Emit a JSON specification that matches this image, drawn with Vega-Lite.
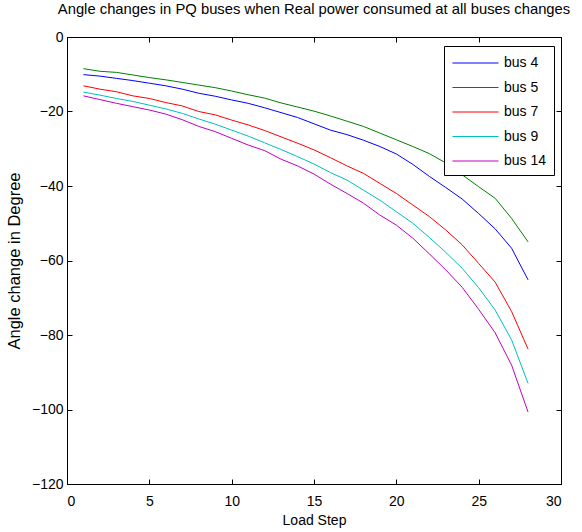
{
  "$schema": "https://vega.github.io/schema/vega-lite/v6.json",
  "width": 494,
  "height": 447,
  "autosize": {"type": "none"},
  "padding": {"left": 67, "top": 37, "right": 21, "bottom": 48},
  "background": "white",
  "title": {
    "text": "Angle changes in PQ buses when Real power consumed at all buses changes",
    "font": "Liberation Sans",
    "fontSize": 14.8,
    "fontWeight": "normal",
    "color": "black",
    "offset": 13
  },
  "config": {
    "view": {"stroke": "black", "strokeWidth": 1},
    "axis": {
      "labelFont": "Liberation Sans",
      "titleFont": "Liberation Sans",
      "labelFontSize": 14,
      "titleFontSize": 14,
      "titleFontWeight": "normal",
      "labelColor": "black",
      "titleColor": "black",
      "domainColor": "black",
      "tickColor": "black",
      "grid": false,
      "tickSize": -5
    }
  },
  "data": {
    "values": [
      {"step": 1, "bus": "bus 4", "angle": -10.1}, {"step": 2, "bus": "bus 4", "angle": -10.5}, {"step": 3, "bus": "bus 4", "angle": -11.1}, {"step": 4, "bus": "bus 4", "angle": -11.7},
      {"step": 5, "bus": "bus 4", "angle": -12.4}, {"step": 6, "bus": "bus 4", "angle": -13.1}, {"step": 7, "bus": "bus 4", "angle": -14.0}, {"step": 8, "bus": "bus 4", "angle": -15.1},
      {"step": 9, "bus": "bus 4", "angle": -15.9}, {"step": 10, "bus": "bus 4", "angle": -16.9}, {"step": 11, "bus": "bus 4", "angle": -17.8}, {"step": 12, "bus": "bus 4", "angle": -19.0},
      {"step": 13, "bus": "bus 4", "angle": -20.3}, {"step": 14, "bus": "bus 4", "angle": -21.6}, {"step": 15, "bus": "bus 4", "angle": -23.3}, {"step": 16, "bus": "bus 4", "angle": -25.0},
      {"step": 17, "bus": "bus 4", "angle": -26.2}, {"step": 18, "bus": "bus 4", "angle": -27.7}, {"step": 19, "bus": "bus 4", "angle": -29.4}, {"step": 20, "bus": "bus 4", "angle": -31.4},
      {"step": 21, "bus": "bus 4", "angle": -34.2}, {"step": 22, "bus": "bus 4", "angle": -37.4}, {"step": 23, "bus": "bus 4", "angle": -40.4}, {"step": 24, "bus": "bus 4", "angle": -43.5},
      {"step": 25, "bus": "bus 4", "angle": -47.4}, {"step": 26, "bus": "bus 4", "angle": -51.5}, {"step": 27, "bus": "bus 4", "angle": -56.7}, {"step": 28, "bus": "bus 4", "angle": -65.2},

      {"step": 1, "bus": "bus 5", "angle": -8.5}, {"step": 2, "bus": "bus 5", "angle": -9.2}, {"step": 3, "bus": "bus 5", "angle": -9.5}, {"step": 4, "bus": "bus 5", "angle": -10.2},
      {"step": 5, "bus": "bus 5", "angle": -10.9}, {"step": 6, "bus": "bus 5", "angle": -11.5}, {"step": 7, "bus": "bus 5", "angle": -12.2}, {"step": 8, "bus": "bus 5", "angle": -12.9},
      {"step": 9, "bus": "bus 5", "angle": -13.6}, {"step": 10, "bus": "bus 5", "angle": -14.5}, {"step": 11, "bus": "bus 5", "angle": -15.5}, {"step": 12, "bus": "bus 5", "angle": -16.4},
      {"step": 13, "bus": "bus 5", "angle": -17.7}, {"step": 14, "bus": "bus 5", "angle": -18.8}, {"step": 15, "bus": "bus 5", "angle": -19.9}, {"step": 16, "bus": "bus 5", "angle": -21.2},
      {"step": 17, "bus": "bus 5", "angle": -22.6}, {"step": 18, "bus": "bus 5", "angle": -24.0}, {"step": 19, "bus": "bus 5", "angle": -25.8}, {"step": 20, "bus": "bus 5", "angle": -27.6},
      {"step": 21, "bus": "bus 5", "angle": -29.4}, {"step": 22, "bus": "bus 5", "angle": -31.3}, {"step": 23, "bus": "bus 5", "angle": -33.8}, {"step": 24, "bus": "bus 5", "angle": -37.0},
      {"step": 25, "bus": "bus 5", "angle": -40.2}, {"step": 26, "bus": "bus 5", "angle": -43.3}, {"step": 27, "bus": "bus 5", "angle": -48.7}, {"step": 28, "bus": "bus 5", "angle": -55.0},

      {"step": 1, "bus": "bus 7", "angle": -13.1}, {"step": 2, "bus": "bus 7", "angle": -14.0}, {"step": 3, "bus": "bus 7", "angle": -14.7}, {"step": 4, "bus": "bus 7", "angle": -15.8},
      {"step": 5, "bus": "bus 7", "angle": -16.5}, {"step": 6, "bus": "bus 7", "angle": -17.6}, {"step": 7, "bus": "bus 7", "angle": -18.5}, {"step": 8, "bus": "bus 7", "angle": -20.0},
      {"step": 9, "bus": "bus 7", "angle": -20.9}, {"step": 10, "bus": "bus 7", "angle": -22.3}, {"step": 11, "bus": "bus 7", "angle": -23.6}, {"step": 12, "bus": "bus 7", "angle": -25.1},
      {"step": 13, "bus": "bus 7", "angle": -26.8}, {"step": 14, "bus": "bus 7", "angle": -28.5}, {"step": 15, "bus": "bus 7", "angle": -30.3}, {"step": 16, "bus": "bus 7", "angle": -32.4},
      {"step": 17, "bus": "bus 7", "angle": -34.6}, {"step": 18, "bus": "bus 7", "angle": -36.6}, {"step": 19, "bus": "bus 7", "angle": -39.3}, {"step": 20, "bus": "bus 7", "angle": -42.0},
      {"step": 21, "bus": "bus 7", "angle": -45.1}, {"step": 22, "bus": "bus 7", "angle": -48.2}, {"step": 23, "bus": "bus 7", "angle": -51.8}, {"step": 24, "bus": "bus 7", "angle": -55.8},
      {"step": 25, "bus": "bus 7", "angle": -60.8}, {"step": 26, "bus": "bus 7", "angle": -65.8}, {"step": 27, "bus": "bus 7", "angle": -73.7}, {"step": 28, "bus": "bus 7", "angle": -83.8},

      {"step": 1, "bus": "bus 9", "angle": -14.8}, {"step": 2, "bus": "bus 9", "angle": -15.6}, {"step": 3, "bus": "bus 9", "angle": -16.5}, {"step": 4, "bus": "bus 9", "angle": -17.3},
      {"step": 5, "bus": "bus 9", "angle": -18.3}, {"step": 6, "bus": "bus 9", "angle": -19.3}, {"step": 7, "bus": "bus 9", "angle": -20.5}, {"step": 8, "bus": "bus 9", "angle": -22.0},
      {"step": 9, "bus": "bus 9", "angle": -23.4}, {"step": 10, "bus": "bus 9", "angle": -25.0}, {"step": 11, "bus": "bus 9", "angle": -26.6}, {"step": 12, "bus": "bus 9", "angle": -28.4},
      {"step": 13, "bus": "bus 9", "angle": -30.2}, {"step": 14, "bus": "bus 9", "angle": -32.1}, {"step": 15, "bus": "bus 9", "angle": -34.1}, {"step": 16, "bus": "bus 9", "angle": -36.4},
      {"step": 17, "bus": "bus 9", "angle": -38.4}, {"step": 18, "bus": "bus 9", "angle": -41.1}, {"step": 19, "bus": "bus 9", "angle": -43.8}, {"step": 20, "bus": "bus 9", "angle": -46.9},
      {"step": 21, "bus": "bus 9", "angle": -50.0}, {"step": 22, "bus": "bus 9", "angle": -53.8}, {"step": 23, "bus": "bus 9", "angle": -57.8}, {"step": 24, "bus": "bus 9", "angle": -62.1},
      {"step": 25, "bus": "bus 9", "angle": -67.3}, {"step": 26, "bus": "bus 9", "angle": -73.3}, {"step": 27, "bus": "bus 9", "angle": -81.3}, {"step": 28, "bus": "bus 9", "angle": -93.0},

      {"step": 1, "bus": "bus 14", "angle": -15.8}, {"step": 2, "bus": "bus 14", "angle": -16.8}, {"step": 3, "bus": "bus 14", "angle": -17.8}, {"step": 4, "bus": "bus 14", "angle": -18.7},
      {"step": 5, "bus": "bus 14", "angle": -19.6}, {"step": 6, "bus": "bus 14", "angle": -20.7}, {"step": 7, "bus": "bus 14", "angle": -22.2}, {"step": 8, "bus": "bus 14", "angle": -24.0},
      {"step": 9, "bus": "bus 14", "angle": -25.4}, {"step": 10, "bus": "bus 14", "angle": -27.2}, {"step": 11, "bus": "bus 14", "angle": -29.0}, {"step": 12, "bus": "bus 14", "angle": -30.5},
      {"step": 13, "bus": "bus 14", "angle": -32.8}, {"step": 14, "bus": "bus 14", "angle": -34.6}, {"step": 15, "bus": "bus 14", "angle": -36.8}, {"step": 16, "bus": "bus 14", "angle": -39.5},
      {"step": 17, "bus": "bus 14", "angle": -42.0}, {"step": 18, "bus": "bus 14", "angle": -44.6}, {"step": 19, "bus": "bus 14", "angle": -47.8}, {"step": 20, "bus": "bus 14", "angle": -50.5},
      {"step": 21, "bus": "bus 14", "angle": -54.0}, {"step": 22, "bus": "bus 14", "angle": -58.2}, {"step": 23, "bus": "bus 14", "angle": -62.5}, {"step": 24, "bus": "bus 14", "angle": -67.2},
      {"step": 25, "bus": "bus 14", "angle": -73.1}, {"step": 26, "bus": "bus 14", "angle": -79.4}, {"step": 27, "bus": "bus 14", "angle": -88.1}, {"step": 28, "bus": "bus 14", "angle": -100.7}
    ]
  },
  "layer": [
    {
      "mark": {"type": "line", "strokeWidth": 1, "clip": true},
      "encoding": {
        "x": {
          "field": "step", "type": "quantitative",
          "scale": {"domain": [0, 30], "nice": false, "zero": false},
          "axis": {"title": "Load Step", "values": [0, 5, 10, 15, 20, 25, 30], "labelPadding": 15, "titlePadding": 5}
        },
        "y": {
          "field": "angle", "type": "quantitative",
          "scale": {"domain": [-120, 0], "nice": false},
          "axis": {"title": "Angle change in Degree", "titleFontSize": 16.5, "values": [-120, -100, -80, -60, -40, -20, 0], "labelPadding": 9, "titlePadding": 9}
        },
        "color": {
          "field": "bus", "type": "nominal",
          "scale": {
            "domain": ["bus 4", "bus 5", "bus 7", "bus 9", "bus 14"],
            "range": ["#0000ff", "#008000", "#ff0000", "#00bfbf", "#bf00bf"]
          },
          "legend": {
            "title": null,
            "orient": "none",
            "legendX": 377,
            "legendY": 9,
            "symbolType": "M-0.9,0H3.95",
            "symbolSize": 361,
            "symbolStrokeWidth": 1,
            "symbolFillColor": "transparent",
            "labelFont": "Liberation Sans",
            "labelFontSize": 14,
            "labelColor": "black",
            "labelOffset": 33,
            "rowPadding": 7.5,
            "padding": 7,
            "strokeColor": "black",
            "fillColor": "white",
            "labelLimit": 200
          }
        }
      }
    },
    {
      "mark": {"type": "line", "opacity": 0},
      "encoding": {
        "x": {
          "field": "step", "type": "quantitative",
          "scale": {"domain": [0, 30], "nice": false, "zero": false},
          "axis": {"orient": "top", "title": null, "labels": false, "values": [0, 5, 10, 15, 20, 25, 30]}
        },
        "y": {
          "field": "angle", "type": "quantitative",
          "scale": {"domain": [-120, 0], "nice": false},
          "axis": {"orient": "right", "title": null, "labels": false, "values": [-120, -100, -80, -60, -40, -20, 0]}
        }
      }
    }
  ],
  "resolve": {"axis": {"x": "independent", "y": "independent"}}
}
